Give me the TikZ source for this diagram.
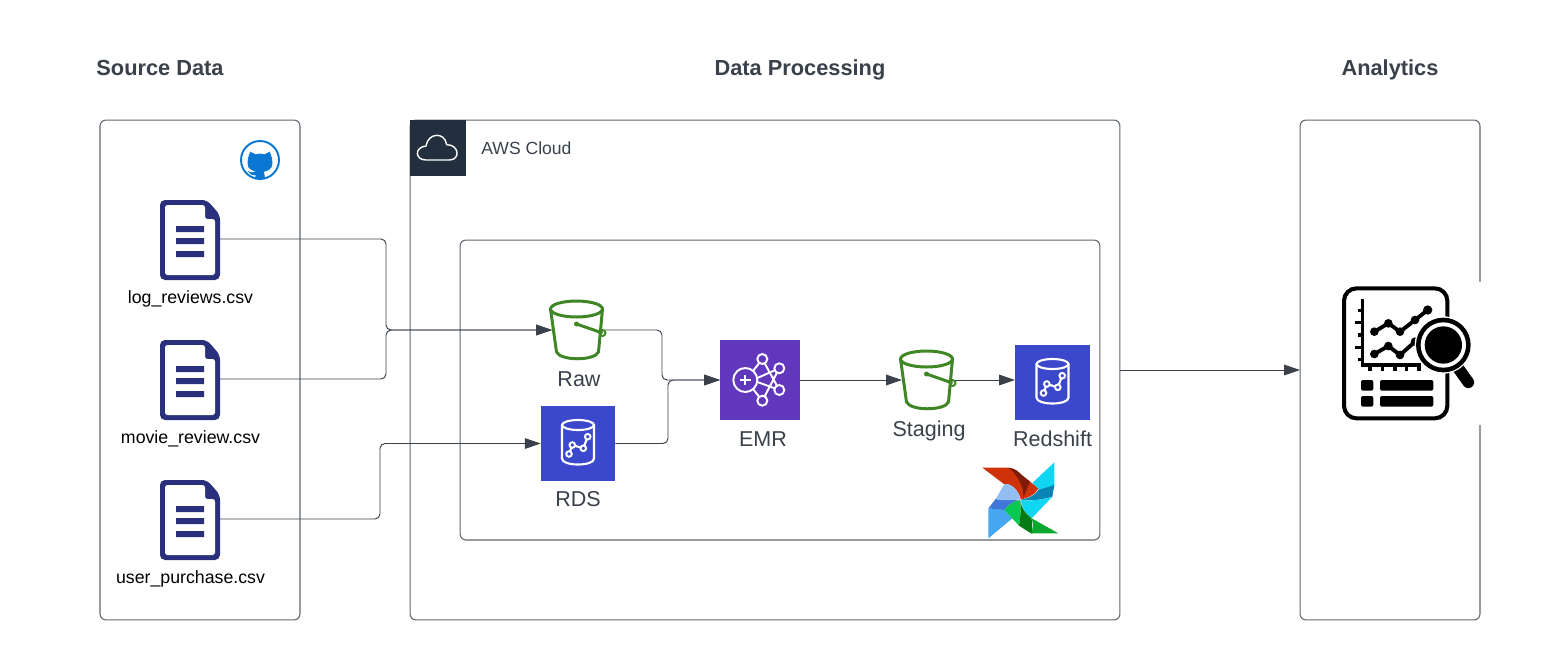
\documentclass[tikz,border=0pt]{standalone}
\usepackage{fontspec}
\setmainfont{Liberation Sans}
\usetikzlibrary{arrows.meta}
\definecolor{inkgrey}{HTML}{3A414A}
\definecolor{edgegrey}{HTML}{5F666E}
\definecolor{docblue}{HTML}{2A307C}
\definecolor{gitblue}{HTML}{0A78D2}
\definecolor{awsdark}{HTML}{232F3E}
\definecolor{bucketgreen}{HTML}{3F8624}
\definecolor{rdsblue}{HTML}{3B48CC}
\definecolor{emrpurple}{HTML}{6137BC}
\definecolor{flowred}{HTML}{CF3208}
\definecolor{flowdarkred}{HTML}{7E1C0C}
\definecolor{flowcyan}{HTML}{10D6F2}
\definecolor{flowteal}{HTML}{0A84B4}
\definecolor{flowblue}{HTML}{46A6F0}
\definecolor{flowmidblue}{HTML}{3F76D8}
\definecolor{flowpale}{HTML}{92BEF2}
\definecolor{flowgreen}{HTML}{08C850}
\definecolor{flowdarkgreen}{HTML}{067A14}
\definecolor{flowmidgreen}{HTML}{0AA82E}
\tikzset{
  panel/.style={draw=edgegrey,line width=.6pt,rounded corners=.12cm,inner sep=0pt,outer sep=0pt},
  slot/.style={inner sep=0pt,outer sep=0pt},
  ttl/.style={font=\fontsize{12.4}{15}\selectfont\bfseries,text=inkgrey},
  lbl/.style={font=\fontsize{10.1}{12}\selectfont,text=black},
  svc/.style={font=\fontsize{12.25}{15}\selectfont,text=inkgrey},
  flow/.style={draw=inkgrey,line width=.55pt,rounded corners=.1cm,-{Triangle[length=9pt,width=6pt]}},
  docicon/.pic={
    \fill[docblue,rounded corners=.1cm] (-30,-40) -- (17,-40) -- (30,-25) -- (30,40) -- (-30,40) -- cycle;
    \fill[white,rounded corners=.05cm] (-25,-35) -- (15,-35) -- (15,-21) -- (25,-21) -- (25,35) -- (-25,35) -- cycle;
    \fill[docblue] (-14,-14) rectangle (14,-8) (-14,-2) rectangle (14,4) (-14,11) rectangle (14,17);
  },
  bucketicon/.pic={
    \draw[bucketgreen,line width=1.7pt,line join=round] (-28,-21) -- (-22,22) .. controls (-18,31) and (16,31) .. (20,22) -- (24,-21);
    \draw[bucketgreen,line width=1.7pt,fill=white] (-2,-21) ellipse[x radius=26,y radius=8];
    \draw[bucketgreen,line width=1.7pt] (-2,-6) -- (24,3);
    \fill[bucketgreen] (-2,-6) circle[radius=2.5];
    \draw[bucketgreen,line width=1.1pt] (24,3) circle[radius=3];
  },
  dbicon/.pic={
    \draw[white,line width=1.2pt] (0,-18.5) ellipse[x radius=16,y radius=5];
    \draw[white,line width=1.2pt] (-16,-18.5) -- (-16,15) .. controls (-16,23) and (16,23) .. (16,15) -- (16,-18.5);
    \draw[white,line width=1.2pt] (-9,10.5) -- (-5.7,1.5) -- (5.3,4.8) -- (9.7,-6.8);
    \foreach \p in {(-9,10.5),(-5.7,1.5),(5.3,4.8),(9.7,-6.8)}
      \draw[white,line width=1.1pt,fill=rdsblue] \p circle[radius=2.8];
  }
}
\begin{document}
\begin{tikzpicture}[x=.02cm,y=-.02cm]
  \useasboundingbox[fill=white] (0,0) rectangle (1550,660);
  % panels
  \node[panel,minimum width=4cm,minimum height=10cm] (source) at (200,370) {};
  \node[panel,minimum width=14.2cm,minimum height=10cm] (aws) at (765,370) {};
  \node[panel,minimum width=12.8cm,minimum height=6cm] (airflow) at (780,390) {};
  \node[panel,minimum width=3.6cm,minimum height=10cm] (analytics) at (1390,370) {};
  \node[ttl] (t1) at (160,68) {Source Data};
  \node[ttl] (t2) at (800,70) {Data Processing};
  \node[ttl] (t3) at (1390,70) {Analytics};
  % github
  \draw[gitblue,line width=1.1pt,fill=white] (260,160) circle[radius=19];
  \begin{scope}[shift={(235,135)},scale=1/3]
    \fill[gitblue] (46,50) -- (62,58) .. controls (70,55) and (80,55) .. (88,58) -- (104,50) .. controls (110,62) and (113,76) .. (112,88) .. controls (111,102) and (98,108) .. (87,110) -- (90,130) -- (60,130) -- (62,120) .. controls (50,122) and (42,116) .. (38,108) .. controls (44,112) and (54,114) .. (63,110) .. controls (50,106) and (39,102) .. (38,88) .. controls (37,76) and (40,62) .. (46,50) -- cycle;
  \end{scope}
  % aws corner
  \fill[awsdark] (410,120) rectangle (466,176);
  \begin{scope}[shift={(400,110)},scale=1/3]
    \draw[white,line width=.8pt,line join=round] (78,150) .. controls (45,150) and (42,112) .. (78,108) .. controls (84,68) and (134,64) .. (140,104) .. controls (178,104) and (182,150) .. (148,150) -- cycle;
  \end{scope}
  \node[anchor=west,font=\fontsize{10}{12}\selectfont,text=inkgrey,inner sep=0pt] (awslbl) at (481,148) {AWS Cloud};
  % csv files
  \node[slot,minimum width=1.2cm,minimum height=1.6cm] (logdoc) at (190,240) {};
  \node[slot,minimum width=1.2cm,minimum height=1.6cm] (moviedoc) at (190,380) {};
  \node[slot,minimum width=1.2cm,minimum height=1.6cm] (userdoc) at (190,520) {};
  \pic at (logdoc) {docicon};
  \pic at (moviedoc) {docicon};
  \pic at (userdoc) {docicon};
  \node[lbl] (loglbl) at (190.5,299) {log\_reviews.csv};
  \node[lbl] (movielbl) at (190.5,439) {movie\_review.csv};
  \node[lbl] (userlbl) at (190.5,579) {user\_purchase.csv};
  % services
  \node[slot,minimum width=1.06cm,minimum height=1.2cm] (raw) at (578.5,330) {};
  \node[slot,minimum width=1.06cm,minimum height=1.2cm] (staging) at (928.5,380) {};
  \pic at (raw) {bucketicon};
  \pic at (staging) {bucketicon};
  \node[slot,fill=rdsblue,minimum size=1.49cm] (rds) at (578,443.5) {};
  \node[slot,fill=rdsblue,minimum size=1.5cm] (redshift) at (1052.5,382.5) {};
  \pic at (rds) {dbicon};
  \pic at (redshift) {dbicon};
  \node[slot,fill=emrpurple,minimum size=1.6cm] (emr) at (760,380) {};
  \begin{scope}[white,line width=1.1pt]
    \draw (745.3,380) circle[radius=12];
    \draw (740,380) -- (750.6,380) (745.3,374.7) -- (745.3,385.3);
    \draw (753,371) -- (762.3,359) (757.3,378) -- (779.3,368.3) (757.3,382) -- (779.3,390) (753,389) -- (762.3,400.7);
    \draw (762.3,359) -- (779.3,390) (779.3,368.3) -- (762.3,400.7);
    \foreach \p in {(762.3,359),(779.3,368.3),(779.3,390),(762.3,400.7)}
      \draw[fill=emrpurple] \p circle[radius=5];
  \end{scope}
  \node[svc] (rawlbl) at (579,379) {Raw};
  \node[svc] (rdslbl) at (578,499) {RDS};
  \node[svc] (emrlbl) at (763,439) {EMR};
  \node[svc] (staginglbl) at (929,431) {Staging};
  \node[svc] (redshiftlbl) at (1052.5,439) {Redshift};
  % airflow logo
  \begin{scope}[shift={(975,455)},scale=1/3]
    \fill[flowred] (22,38) -- (100,38) .. controls (120,40) and (130,50) .. (140,60) -- (190,100) .. controls (185,115) and (160,130) .. (137,133) .. controls (135,115) and (112,82) .. (88,88) -- cycle;
    \fill[flowdarkred] (100,38) .. controls (120,40) and (130,50) .. (140,60) -- (165,80) .. controls (158,95) and (150,115) .. (145,128) .. controls (148,100) and (130,60) .. (100,38) -- cycle;
    \fill[flowcyan] (238,22) -- (238,92) -- (190,112) -- (190,100) -- (172,84) -- cycle;
    \fill[flowteal] (238,90) -- (232,125) .. controls (200,135) and (165,138) .. (137,134) .. controls (165,130) and (185,115) .. (190,105) -- cycle;
    \fill[flowcyan] (137,135) .. controls (165,138) and (200,135) .. (232,125) -- (170,190) .. controls (150,175) and (140,155) .. (137,135) -- cycle;
    \fill[flowblue] (40,250) -- (40,160) -- (88,165) -- (112,190) -- cycle;
    \fill[flowmidblue] (40,160) -- (62,132) .. controls (85,138) and (115,135) .. (135,134) .. controls (115,138) and (100,150) .. (88,165) -- cycle;
    \fill[flowpale] (62,132) -- (88,88) .. controls (112,82) and (135,115) .. (135,133) .. controls (115,135) and (85,138) .. (62,132) -- cycle;
    \fill[flowgreen] (88,165) .. controls (100,150) and (115,138) .. (135,135) .. controls (140,160) and (135,190) .. (132,212) -- cycle;
    \fill[flowdarkgreen] (135,135) .. controls (140,160) and (150,175) .. (170,190) -- (172,235) -- (168,235) -- (132,212) .. controls (135,190) and (140,160) .. (135,135) -- cycle;
    \fill[flowmidgreen] (170,190) -- (250,235) -- (168,235) .. controls (175,220) and (175,205) .. (170,190) -- cycle;
  \end{scope}
  % analytics icon
  \fill[white] (1340,282) rectangle (1482,425);
  \begin{scope}[shift={(1320,270)},scale=1/3]
    \draw[black,line width=2.3pt,rounded corners=.25cm] (72,55) rectangle (382,445);
    \draw[black,line width=2pt] (128,88) -- (128,285) -- (302,285);
    \foreach \y/\l in {122/114,158/106,195/114,232/106,268/114}
      \draw[black,line width=2pt] (\l,\y) -- (128,\y);
    \foreach \x in {150,187,225,260,297}
      \draw[black,line width=2pt] (\x,285) -- (\x,304);
    \draw[black,line width=2.2pt] (163,185) -- (205,160) -- (240,185) -- (285,150) -- (323,120);
    \draw[black,line width=2.2pt] (163,252) -- (205,228) -- (240,255) -- (285,215);
    \foreach \p in {(163,185),(205,160),(240,185),(285,150),(163,252),(205,228),(240,255),(285,215)}
      \fill[black] \p circle[radius=13];
    \fill[black] (323,120) circle[radius=14];
    \draw[black,line width=6.6pt,line cap=round] (415,295) -- (445,337);
    \fill[white] (370,225) circle[radius=86];
    \fill[black] (370,225) circle[radius=82];
    \fill[white] (370,225) circle[radius=68];
    \fill[black] (370,225) circle[radius=56];
    \fill[black,rounded corners=.04cm] (123,330) rectangle (160,362) (180,330) rectangle (340,362) (123,378) rectangle (160,410) (180,378) rectangle (340,410);
  \end{scope}
  % connectors
  \draw[flow] (logdoc.east |- 0,239) -- (386,239) -- (386,330) -- (raw.west);
  \draw[flow] (moviedoc.east |- 0,379) -- (386,379) -- (386,330) -- (raw.west);
  \draw[flow] (userdoc.east |- 0,519) -- (380,519) -- (380,443.5) -- (rds.west);
  \draw[flow] (raw.east) -- (662,330) -- (662,380) -- (emr.west);
  \draw[flow] (rds.east) -- (668,443.5) -- (668,380) -- (emr.west);
  \draw[flow] (emr.east) -- (staging.west);
  \draw[flow] (staging.east) -- (redshift.west |- staging.east);
  \draw[flow] (aws.east) -- (analytics.west);
\end{tikzpicture}
\end{document}
